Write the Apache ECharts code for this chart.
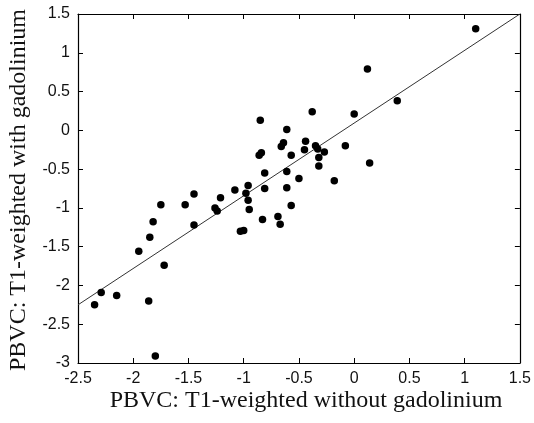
<!DOCTYPE html>
<html>
<head>
<meta charset="utf-8">
<script src="https://cdn.jsdelivr.net/npm/echarts@6/dist/echarts.min.js"></script>
<style>
html,body{margin:0;padding:0;background:#fff;}
#chart{width:534px;height:423px;}
</style>
</head>
<body>
<div id="chart"></div>
<script>
// Data
var xVals = [1.10, 0.12, 0.39, -0.38, 0.00, -0.61, -0.85, -0.64, -0.66, -0.44,
             -0.45, -0.35, -0.33, -0.27, -0.08, -0.84, -0.86, -0.57, -0.32, -0.32,
             0.14, -0.81, -0.61, -0.50, -0.18, -0.81, -0.61, -1.45, -1.21, -1.08,
             -0.96, -0.98, -0.96, -1.75, -1.53, -1.26, -1.24, -0.95, -0.57, -1.82,
             -1.45, -0.83, -1.03, -1.00, -0.69, -0.67, -1.85, -1.95, -1.72, -2.29,
             -2.15, -2.35, -1.86, -1.80];
var yVals = [1.31, 0.79, 0.38, 0.24, 0.21, 0.01, 0.13, -0.16, -0.21, -0.14,
             -0.25, -0.20, -0.24, -0.28, -0.20, -0.29, -0.32, -0.32, -0.35, -0.46,
             -0.42, -0.55, -0.53, -0.62, -0.65, -0.75, -0.74, -0.82, -0.87, -0.77,
             -0.71, -0.81, -0.90, -0.96, -0.96, -1.00, -1.04, -1.02, -0.97, -1.18,
             -1.22, -1.15, -1.30, -1.29, -1.11, -1.21, -1.38, -1.56, -1.74, -2.09,
             -2.13, -2.25, -2.20, -2.91];
var fitX = [-2.5, 1.5];
var fitY = [-2.25, 1.5];
var xTickLabels = ['-2.5', '-2', '-1.5', '-1', '-0.5', '0', '0.5', '1', '1.5'];
var yTickLabels = ['-3', '-2.5', '-2', '-1.5', '-1', '-0.5', '0', '0.5', '1', '1.5'];
var xTitle = 'PBVC: T1-weighted without gadolinium';
var yTitle = 'PBVC: T1-weighted with gadolinium';

var points = xVals.map(function (x, i) { return [x, yVals[i]]; });
var fitLine = fitX.map(function (x, i) { return [x, fitY[i]]; });

function fmt(list) {
  return function (v) {
    for (var i = 0; i < list.length; i++) {
      if (Math.abs(parseFloat(list[i]) - v) < 1e-6) return list[i];
    }
    return '';
  };
}

var lineStyle = { color: '#000', width: 1.2 };
var tickStyle = { show: true, inside: true, length: 5, lineStyle: { color: '#000', width: 1 } };
var labelFont = { color: '#111', fontSize: 16, fontFamily: 'Liberation Sans, Arial, sans-serif' };

var chart = echarts.init(document.getElementById('chart'), null, { renderer: 'canvas' });
chart.setOption({
  animation: false,
  backgroundColor: '#fff',
  grid: { left: 78, right: 12, top: 14, bottom: 60, containLabel: false },
  xAxis: [
    { type: 'value', position: 'bottom', min: -2.5, max: 1.5, interval: 0.5,
      axisLine: { show: true, onZero: false, lineStyle: lineStyle },
      axisTick: tickStyle,
      axisLabel: Object.assign({ margin: 8, formatter: fmt(xTickLabels) }, labelFont),
      splitLine: { show: false } },
    { type: 'value', position: 'top', min: -2.5, max: 1.5, interval: 0.5,
      axisLine: { show: true, onZero: false, lineStyle: lineStyle },
      axisTick: tickStyle,
      axisLabel: { show: false },
      splitLine: { show: false } }
  ],
  yAxis: [
    { type: 'value', position: 'left', min: -3, max: 1.5, interval: 0.5,
      axisLine: { show: true, onZero: false, lineStyle: lineStyle },
      axisTick: tickStyle,
      axisLabel: Object.assign({ margin: 8, formatter: fmt(yTickLabels) }, labelFont),
      splitLine: { show: false } },
    { type: 'value', position: 'right', min: -3, max: 1.5, interval: 0.5,
      axisLine: { show: true, onZero: false, lineStyle: lineStyle },
      axisTick: tickStyle,
      axisLabel: { show: false },
      splitLine: { show: false } }
  ],
  series: [
    { type: 'line', data: fitLine, xAxisIndex: 0, yAxisIndex: 0,
      showSymbol: false, symbol: 'none',
      lineStyle: { color: '#333', width: 1 }, z: 2, silent: true },
    { type: 'scatter', data: points, xAxisIndex: 0, yAxisIndex: 0,
      symbol: 'circle', symbolSize: 7.5,
      itemStyle: { color: '#000', opacity: 1 }, z: 3 }
  ],
  graphic: [
    { type: 'text', x: 306, y: 401,
      style: { text: xTitle, align: 'center', verticalAlign: 'middle',
               font: '24px "Liberation Serif", "Times New Roman", serif', fill: '#111' } },
    { type: 'text', x: 19, y: 190, rotation: Math.PI / 2,
      style: { text: yTitle, align: 'center', verticalAlign: 'middle',
               font: '24px "Liberation Serif", "Times New Roman", serif', fill: '#111' } }
  ]
});
</script>
</body>
</html>
